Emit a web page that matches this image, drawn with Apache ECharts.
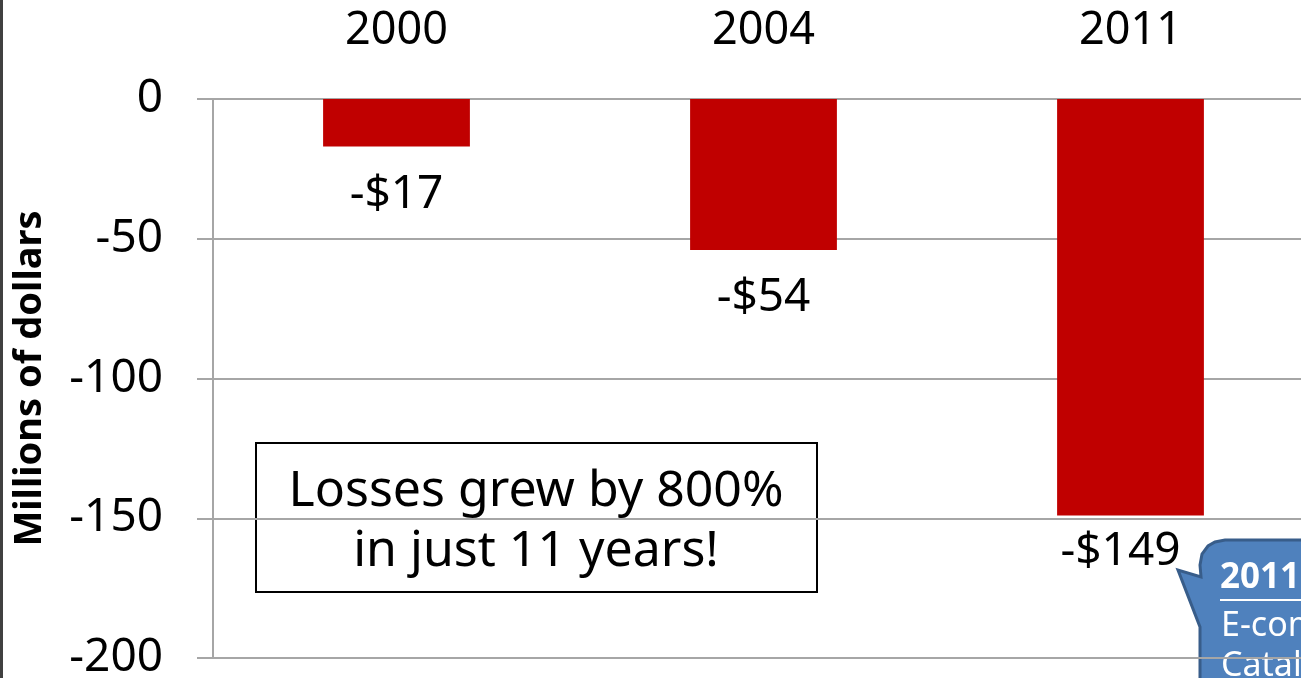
<!DOCTYPE html>
<html lang="en">
<head>
    <meta charset="UTF-8"/>
    <title>Losses</title>
    <script src="https://cdn.jsdelivr.net/npm/echarts@6/dist/echarts.min.js"></script>
    <style>
        html, body { margin: 0; padding: 0; background: #fff; }
    </style>
</head>
<body>
<div id="main" style="width:1301px;height:678px;"></div>

<script type="text/javascript">
    // data
    var years = ['2000', '2004', '2011'];
    var losses = [-17, -54, -149];
    var yTicks = [-200, -150, -100, -50, 0];

    var font = '"Noto Sans", "Open Sans", sans-serif';
    var myChart = echarts.init(document.getElementById('main'));

    // the 2011 label sits a bit up and left so it clears the callout
    var barData = losses.map(function (v, i) {
        if (i === losses.length - 1) {
            return { value: v, label: { offset: [-10, -12] } };
        }
        return v;
    });

    var option = {
        animation: false,
        textStyle: { fontFamily: font },
        grid: { left: 213, top: 99, right: -13, bottom: 20, outerBoundsMode: 'none', containLabel: false },
        xAxis: {
            type: 'category',
            position: 'top',
            data: years,
            axisLine: { lineStyle: { color: '#a6a6a6', width: 2 } },
            axisTick: { inside: true, length: 17, lineStyle: { color: '#a6a6a6', width: 2 } },
            axisLabel: { color: '#000', fontSize: 45, margin: 45, fontFamily: font }
        },
        yAxis: {
            type: 'value',
            min: yTicks[0],
            max: yTicks[yTicks.length - 1],
            interval: 50,
            name: 'Millions of dollars',
            nameLocation: 'middle',
            nameRotate: 90,
            nameGap: 164,
            nameTextStyle: { color: '#000', fontSize: 38, fontWeight: 'bold', fontFamily: font },
            axisLine: { show: true, lineStyle: { color: '#a6a6a6', width: 2 } },
            axisTick: { show: true, length: 16, lineStyle: { color: '#a6a6a6', width: 2 } },
            axisLabel: { color: '#000', fontSize: 46, margin: 50, fontFamily: font },
            splitLine: { lineStyle: { color: '#a6a6a6', width: 2 } }
        },
        series: [{
            type: 'bar',
            data: barData,
            barWidth: '40%',
            itemStyle: { color: '#c00000' },
            label: {
                show: true,
                position: 'bottom',
                distance: 25,
                color: '#000',
                fontSize: 46,
                fontFamily: font,
                formatter: function (p) { return '-$' + Math.abs(p.value); }
            }
        }],
        graphic: [
            // left frame edge
            { type: 'rect', x: 0, y: 0, shape: { width: 3, height: 678 }, style: { fill: '#404040' } },
            // note box
            { type: 'rect', x: 256, y: 443, shape: { width: 561, height: 149 }, style: { fill: '#fff', stroke: '#000', lineWidth: 2 } },
            { type: 'text', x: 536, y: 492, style: { text: 'Losses grew by 800%', font: '50px ' + font, fill: '#000', align: 'center', verticalAlign: 'middle' } },
            { type: 'text', x: 536, y: 552, style: { text: 'in just 11 years!', font: '50px ' + font, fill: '#000', align: 'center', verticalAlign: 'middle' } },
            // callout bubble
            {
                type: 'polygon',
                shape: { points: [[1225, 540], [1340, 540], [1340, 700], [1200, 700], [1200, 627], [1178, 570], [1201, 577], [1200, 565], [1202, 554], [1208, 546], [1215, 542]] },
                style: { fill: '#4f81bd', stroke: '#385d8a', lineWidth: 3 }
            },
            { type: 'text', x: 1220, y: 561, style: { text: '2011', font: 'bold 35px ' + font, fill: '#fff' } },
            { type: 'rect', x: 1220, y: 599, shape: { width: 82, height: 2 }, style: { fill: '#fff' } },
            { type: 'text', x: 1221, y: 609, style: { text: 'E-commerce', font: '34px ' + font, fill: '#fff' } },
            { type: 'text', x: 1221, y: 649, style: { text: 'Catalog', font: '34px ' + font, fill: '#fff' } }
        ]
    };

    myChart.setOption(option);
</script>
</body>
</html>
